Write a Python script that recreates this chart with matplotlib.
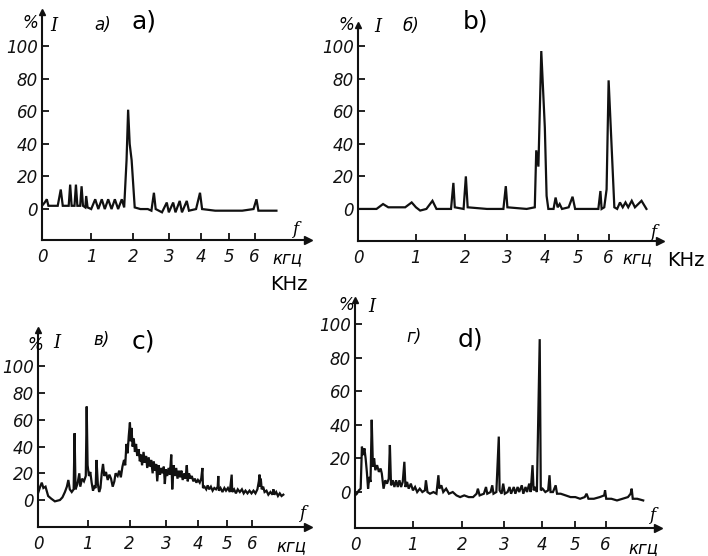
import numpy as np
import matplotlib
matplotlib.use("Agg")
import matplotlib.pyplot as plt

W, H = 708, 556

plt.rcParams["font.family"] = ["DejaVu Sans"]
plt.rcParams["font.style"] = "italic"

y_ticks = [0, 20, 40, 60, 80, 100]
x_ticks = [0, 1, 2, 3, 4, 5, 6]
x_tick_labels = ["0", "1", "2", "3", "4", "5", "6"]

# panel a) intensity, % vs frequency, kHz
a_freq = [0.0, 0.05, 0.09, 0.12, 0.30, 0.36, 0.40, 0.52, 0.55, 0.58, 0.64, 0.67, 0.70,
          0.76, 0.79, 0.82, 0.87, 0.89, 0.92, 1.00, 1.09, 1.16, 1.24, 1.31, 1.39, 1.47,
          1.55, 1.63, 1.72, 1.78, 1.84, 1.88, 1.92, 1.97, 2.05, 2.20, 2.40, 2.50, 2.57,
          2.62, 2.80, 2.94, 3.00, 3.13, 3.20, 3.33, 3.40, 3.55, 3.62, 3.85, 3.98, 4.05,
          4.50, 5.00, 5.50, 5.95, 6.07, 6.15, 6.50, 6.92]
a_level = [2, 4, 6, 2, 2, 12, 2, 2, 15, 2, 2, 15, 2,
           2, 14, 2, 1, 8, 1, 0, 6, 0, 6, 0, 6, 0,
           6, 0, 6, 1, 30, 61, 40, 30, 1, 0, 0, -1, 10,
           0, -2, 4, -2, 4, -2, 5, -2, 5, -1, 0, 10, 0,
           -1, -1, -1, 0, 6, -1, -1, -1]

# panel b)
b_freq = [0.0, 0.30, 0.41, 0.50, 0.80, 0.92, 1.00, 1.08, 1.20, 1.32, 1.40, 1.70, 1.75,
          1.78, 1.97, 2.02, 2.06, 2.50, 2.90, 2.96, 3.00, 3.50, 3.72, 3.76, 3.82, 3.90,
          4.00, 4.05, 4.10, 4.25, 4.31, 4.37, 4.43, 4.50, 4.70, 4.82, 4.90, 5.40, 5.65,
          5.72, 5.76, 5.85, 5.93, 6.00, 6.10, 6.20, 6.30, 6.40, 6.50, 6.60, 6.70, 6.83,
          6.95, 7.20, 7.39]
b_level = [0, 0, 3, 1, 1, 4, 1, -1, 0, 5, 0, 0, 16,
           1, 0, 20, 1, 0, 0, 14, 1, 0, 1, 36, 26, 97,
           50, 8, 0, 0, 7, 1, 3, 0, 1, 7.5, 0, 0, 0,
           11, 0, 1, 12, 79, 40, 1, 0, 4, 1, 4, 1, 5,
           1, 5, 0]

# panel c)
c_freq = [0.00, 0.04, 0.07, 0.10, 0.14, 0.19, 0.25, 0.32, 0.42, 0.47, 0.52, 0.56, 0.59,
          0.62, 0.66, 0.70, 0.72, 0.74, 0.78, 0.82, 0.84, 0.88, 0.92, 0.96, 0.98, 1.00,
          1.03, 1.06, 1.09, 1.12, 1.15, 1.18, 1.20, 1.23, 1.26, 1.29, 1.32, 1.35, 1.38,
          1.42, 1.46, 1.50, 1.54, 1.58, 1.62, 1.65, 1.70, 1.74, 1.78, 1.82, 1.86, 1.89,
          1.92, 1.95, 1.98, 2.01, 2.03, 2.05, 2.08, 2.11, 2.14, 2.17, 2.20, 2.24, 2.27,
          2.30, 2.33, 2.37, 2.40, 2.44, 2.47, 2.51, 2.54, 2.58, 2.62, 2.65, 2.69, 2.72,
          2.75, 2.79, 2.83, 2.86, 2.90, 2.94, 2.97, 3.00, 3.04, 3.08, 3.12, 3.16, 3.19,
          3.23, 3.27, 3.31, 3.35, 3.39, 3.43, 3.47, 3.51, 3.56, 3.60, 3.64, 3.67, 3.71,
          3.76, 3.80, 3.85, 3.90, 3.95, 4.00, 4.06, 4.11, 4.15, 4.17, 4.22, 4.28, 4.33,
          4.38, 4.44, 4.50, 4.56, 4.62, 4.68, 4.70, 4.72, 4.78, 4.85, 4.92, 4.98, 5.05,
          5.12, 5.19, 5.21, 5.28, 5.35, 5.42, 5.50, 5.58, 5.65, 5.72, 5.80, 5.88, 5.96,
          6.04, 6.12, 6.20, 6.26, 6.29, 6.31, 6.34, 6.38, 6.44, 6.50, 6.58, 6.66, 6.75,
          6.84, 6.88, 6.92, 7.00, 7.08, 7.16, 7.24, 7.32]
c_level = [5, 10, 13, 9, 10, 3, 1, -1, 0, 2, 6, 10, 15,
           8, 6, 8, 50, 8, 12, 20, 10, 16, 14, 18, 70, 26,
           18, 21, 13, 7, 10, 9, 30, 12, 6, 9, 20, 27, 18,
           21, 15, 19, 16, 10, 14, 20, 18, 22, 17, 25, 30, 26,
           42, 35, 48, 58, 44, 54, 40, 46, 36, 42, 33, 38, 29,
           34, 26, 36, 28, 33, 24, 32, 25, 30, 20, 29, 22, 27,
           14, 26, 19, 24, 20, 25, 12, 23, 18, 24, 19, 34, 8,
           26, 18, 24, 16, 22, 17, 22, 15, 20, 16, 26, 14, 20,
           16, 18, 14, 16, 13, 15, 13, 16, 24, 9, 10, 8, 11,
           8, 10, 7, 9, 8, 10, 18, 7, 9, 6, 9, 7, 9,
           6, 19, 6, 8, 5, 8, 6, 8, 5, 7, 5, 7, 5,
           7, 5, 8, 14, 19, 10, 16, 8, 10, 6, 7, 4, 6,
           4, 8, 4, 6, 3, 5, 3, 4]

# panel d)
d_freq = [0.00, 0.03, 0.06, 0.09, 0.11, 0.13, 0.15, 0.17, 0.19, 0.21, 0.23, 0.25, 0.27,
          0.29, 0.31, 0.33, 0.36, 0.39, 0.42, 0.44, 0.47, 0.50, 0.53, 0.56, 0.58, 0.60,
          0.63, 0.66, 0.69, 0.72, 0.75, 0.78, 0.81, 0.84, 0.86, 0.89, 0.92, 0.96, 1.00,
          1.04, 1.08, 1.13, 1.18, 1.23, 1.25, 1.28, 1.33, 1.40, 1.46, 1.50, 1.52, 1.56,
          1.60, 1.66, 1.72, 1.80, 1.88, 1.96, 2.05, 2.15, 2.25, 2.33, 2.36, 2.40, 2.50,
          2.55, 2.58, 2.66, 2.70, 2.73, 2.80, 2.86, 2.88, 2.93, 2.97, 3.01, 3.08, 3.13,
          3.17, 3.24, 3.28, 3.34, 3.38, 3.45, 3.49, 3.55, 3.59, 3.65, 3.69, 3.74, 3.77,
          3.82, 3.86, 3.94, 3.97, 4.02, 4.10, 4.18, 4.22, 4.25, 4.32, 4.40, 4.44, 4.55,
          4.70, 4.85, 5.00, 5.15, 5.30, 5.36, 5.42, 5.60, 5.80, 5.95, 5.98, 6.02, 6.20,
          6.40, 6.60, 6.80, 6.90, 6.94, 6.98, 7.15, 7.38]
d_level = [-2, -1, 1, 2, 27, 22, 26, 20, 12, 2, 9, 6, 43,
           15, 20, 13, 16, 12, 14, 11, 2, 7, 5, 8, 28, 4,
           7, 3, 7, 3, 7, 3, 6, 18, 3, 6, 2, 5, 1,
           3, 0, 2, 0, 1, 7, 0, -1, 0, -1, 10, 2, 4,
           0, 2, -1, 0, -2, -3, -2, -3, -3, -1, 2, -2, -1,
           3, -1, 0, 4, -1, 0, 33, 1, -1, 5, -1, 0, 3,
           -1, 3, -1, 3, 0, 4, -1, 3, 0, 5, 0, 16, 1,
           3, 0, 91, 1, 2, 0, 1, 10, 0, 0, 4, -1, -1,
           -2, -3, -3, -4, -3, -1, -4, -4, -3, -2, 1, -4, -4,
           -5, -4, -3, -1, 2, -4, -4, -5]


def fwd(x):
    return np.log1p(np.asarray(x, dtype=float) / 5.0)


def inv(y):
    return 5.0 * np.expm1(np.asarray(y, dtype=float))


def fig_xy(px, py):
    return px / W, 1 - py / H


def draw_panel(fig, box, xmax, ylim, freq, level):
    left, top, right, bottom = box
    ax = fig.add_axes([left / W, 1 - bottom / H, (right - left) / W, (bottom - top) / H])
    ax.set_xscale("function", functions=(fwd, inv))
    ax.plot(freq, level, color="#111111", lw=1.6, solid_joinstyle="miter")
    ax.set_xlim(0, xmax)
    ax.set_ylim(*ylim)
    ax.set_facecolor("none")
    for side in ("top", "right"):
        ax.spines[side].set_visible(False)
    for side in ("left", "bottom"):
        ax.spines[side].set_linewidth(1.5)
        ax.spines[side].set_color("#111111")
    ax.set_xticks(x_ticks)
    ax.set_xticklabels(x_tick_labels)
    ax.set_yticks(y_ticks)
    ax.minorticks_off()
    ax.tick_params(direction="in", length=5, width=1.3, labelsize=12, colors="#111111")
    ax.tick_params(axis="x", pad=6)
    ax.tick_params(axis="y", pad=3)
    ax.plot(1, 0, marker=">", color="#111111", ms=6, transform=ax.transAxes, clip_on=False)
    ax.plot(0, 1, marker="^", color="#111111", ms=5, transform=ax.transAxes, clip_on=False)
    return ax


fig = plt.figure(figsize=(W / 100, H / 100), dpi=100)

panels = [
    ((42, 12, 308, 240), 8.4, (-19, 121), a_freq, a_level),
    ((358, 25, 660, 241), 7.93, (-19.7, 113), b_freq, b_level),
    ((38, 330, 308, 527), 8.49, (-20.2, 127.3), c_freq, c_level),
    ((355, 300, 658, 528), 7.97, (-21.4, 114.3), d_freq, d_level),
]
for box, xmax, ylim, freq, level in panels:
    draw_panel(fig, box, xmax, ylim, freq, level)

# panel titles: original cyrillic letter + latin letter, plus axis names
labels = [
    ((30, 23), (54, 26), (103, 25), "а)", (144, 21), "a)", (295, 230), (287, 258)),
    ((346, 25), (378, 27), (411, 26), "б)", (476, 21), "b)", (653, 232), (637, 258)),
    ((35, 345), (57, 343), (102, 340), "в)", (143, 341), "c)", (302, 513), (291, 546)),
    ((346, 305), (372, 307), (414, 337), "г)", (470, 340), "d)", (652, 515), (643, 548)),
]
for pct, ilab, cyr_pos, cyr, lat_pos, lat, f_pos, khz_pos in labels:
    fig.text(*fig_xy(*pct), "%", fontsize=12, ha="center", va="center")
    fig.text(*fig_xy(*ilab), "I", fontsize=13, family="DejaVu Serif",
             ha="center", va="center")
    fig.text(*fig_xy(*cyr_pos), cyr, fontsize=12, ha="center", va="center")
    fig.text(*fig_xy(*lat_pos), lat, fontsize=18, style="normal",
             ha="center", va="center")
    fig.text(*fig_xy(*f_pos), "f", fontsize=12, family="DejaVu Serif",
             ha="center", va="center")
    fig.text(*fig_xy(*khz_pos), "кгц", fontsize=12, ha="center", va="center")

fig.text(*fig_xy(289, 284), "KHz", fontsize=14, style="normal", ha="center", va="center")
fig.text(*fig_xy(686, 260), "KHz", fontsize=14, style="normal", ha="center", va="center")

fig.savefig("out.png", dpi=100)
